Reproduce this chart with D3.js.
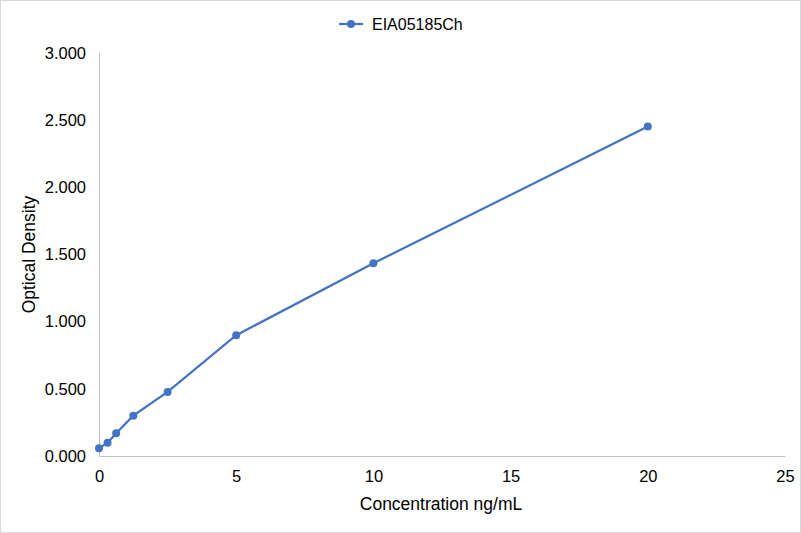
<!DOCTYPE html>
<html>
<head>
<meta charset="utf-8">
<script src="https://cdn.jsdelivr.net/npm/d3@7"></script>
<style>
  body { margin: 0; background: #fff; }
  text { font-family: "Liberation Sans", Arial, sans-serif; fill: #000; }
</style>
</head>
<body>
<div id="chart"></div>
<script>
// Concentration (ng/mL) and optical density
var seriesName = "EIA05185Ch";
var concentration = [0, 0.3125, 0.625, 1.25, 2.5, 5, 10, 20];
var opticalDensity = [0.057, 0.099, 0.169, 0.300, 0.477, 0.899, 1.435, 2.452];
var xTicks = [0, 5, 10, 15, 20, 25];
var yTicks = [0, 0.5, 1, 1.5, 2, 2.5, 3];

var data = concentration.map(function(c, i) {
    return { x: c, y: opticalDensity[i] };
});

var W = 801, H = 533;
var margin = { top: 53, right: 16, bottom: 77, left: 99 },
    width = W - margin.left - margin.right,
    height = H - margin.top - margin.bottom;

var blue = "#4472C4";

var svg = d3.select("#chart")
    .append("svg")
    .attr("width", W)
    .attr("height", H);

// outer chart border
svg.append("rect")
    .attr("x", 0.5).attr("y", 0.5)
    .attr("width", W - 1).attr("height", H - 1)
    .attr("fill", "#fff")
    .attr("stroke", "#d9d9d9");

var g = svg.append("g")
    .attr("transform", "translate(" + margin.left + "," + margin.top + ")");

var x = d3.scaleLinear().domain([0, 25]).range([0, width]);
var y = d3.scaleLinear().domain([0, 3]).range([height, 0]);

// X axis
var xAxis = g.append("g")
    .attr("transform", "translate(0," + height + ")")
    .call(d3.axisBottom(x).tickValues(xTicks).tickSize(0).tickPadding(14)
        .tickFormat(d3.format("d")));
xAxis.select(".domain").attr("stroke", "#bfbfbf").attr("stroke-width", 1);
xAxis.selectAll("text").style("font-size", "16.5px")
    .style("font-family", "Liberation Sans, Arial, sans-serif");

// Y axis
var yAxis = g.append("g")
    .call(d3.axisLeft(y).tickValues(yTicks).tickSize(0).tickPadding(13)
        .tickFormat(d3.format(".3f")));
yAxis.select(".domain").attr("stroke", "#bfbfbf").attr("stroke-width", 1);
yAxis.selectAll("text").style("font-size", "16.5px")
    .style("font-family", "Liberation Sans, Arial, sans-serif");

// axis titles
svg.append("text")
    .attr("x", margin.left + width / 2 - 1)
    .attr("y", 510)
    .attr("text-anchor", "middle")
    .style("font-size", "17.5px")
    .text("Concentration ng/mL");

svg.append("text")
    .attr("transform", "translate(35," + (margin.top + height / 2) + ") rotate(-90)")
    .attr("text-anchor", "middle")
    .style("font-size", "17.5px")
    .text("Optical Density");

// line + markers
var line = d3.line()
    .x(function(d) { return x(d.x); })
    .y(function(d) { return y(d.y); });

g.append("path")
    .datum(data)
    .attr("fill", "none")
    .attr("stroke", blue)
    .attr("stroke-width", 2.25)
    .attr("d", line);

g.selectAll(".dot")
    .data(data)
    .enter().append("circle")
    .attr("class", "dot")
    .attr("cx", function(d) { return x(d.x); })
    .attr("cy", function(d) { return y(d.y); })
    .attr("r", 4)
    .attr("fill", blue);

// legend
var legend = svg.append("g").attr("transform", "translate(339,24)");
legend.append("line")
    .attr("x1", 0).attr("x2", 24)
    .attr("stroke", blue).attr("stroke-width", 2.25);
legend.append("circle")
    .attr("cx", 12).attr("r", 4).attr("fill", blue);
legend.append("text")
    .attr("x", 33).attr("y", 6)
    .style("font-size", "16px")
    .text(seriesName);
</script>
</body>
</html>
